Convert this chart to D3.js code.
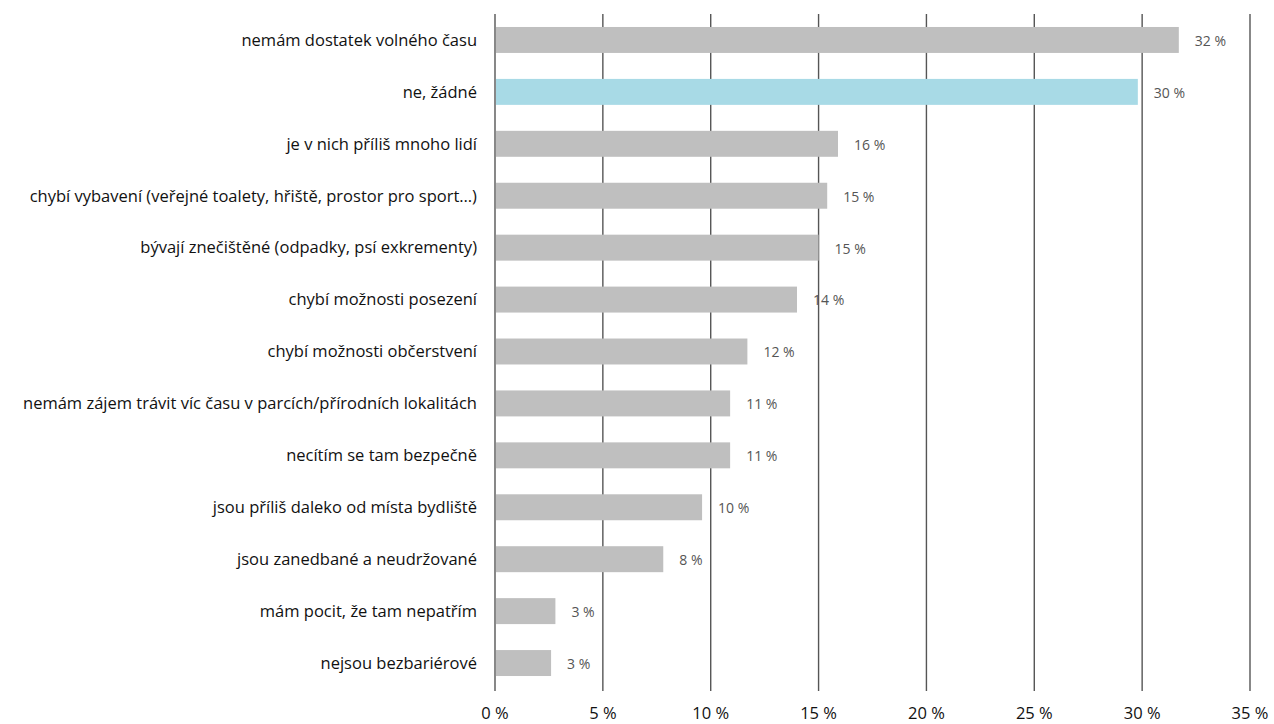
<!DOCTYPE html>
<html><head><meta charset="utf-8">
<script src="https://cdn.jsdelivr.net/npm/d3@7"></script>
<style>body{margin:0;background:#fff}svg{display:block}</style>
</head><body>
<script>
const categories = [
  "nemám dostatek volného času",
  "ne, žádné",
  "je v nich příliš mnoho lidí",
  "chybí vybavení (veřejné toalety, hřiště, prostor pro sport…)",
  "bývají znečištěné (odpadky, psí exkrementy)",
  "chybí možnosti posezení",
  "chybí možnosti občerstvení",
  "nemám zájem trávit víc času v parcích/přírodních lokalitách",
  "necítím se tam bezpečně",
  "jsou příliš daleko od místa bydliště",
  "jsou zanedbané a neudržované",
  "mám pocit, že tam nepatřím",
  "nejsou bezbariérové"
];
const values = [31.7, 29.8, 15.9, 15.4, 15.0, 14.0, 11.7, 10.9, 10.9, 9.6, 7.8, 2.8, 2.6];
const valueLabels = ["32 %","30 %","16 %","15 %","15 %","14 %","12 %","11 %","11 %","10 %","8 %","3 %","3 %"];
const highlight = ["ne, žádné"];
const ticks = [0,5,10,15,20,25,30,35];
const tickLabels = ["0 %","5 %","10 %","15 %","20 %","25 %","30 %","35 %"];

const W = 1274, H = 724;
const svg = d3.select("body").append("svg").attr("width", W).attr("height", H);
const font = "'Open Sans', sans-serif";

const x = d3.scaleLinear().domain([0,35]).range([495,1250]);
const y = d3.scaleBand().domain(categories).range([14,689]).paddingInner(0.5).paddingOuter(0.25);

// gridlines
svg.append("g").selectAll("line").data(ticks).join("line")
  .attr("x1", d=>x(d)).attr("x2", d=>x(d))
  .attr("y1", 14).attr("y2", 691)
  .attr("stroke", "#555").attr("stroke-width", 1.4);

// bars
svg.append("g").selectAll("rect").data(categories).join("rect")
  .attr("x", x(0)+1).attr("y", d=>y(d))
  .attr("width", (d,i)=>x(values[i])-x(0)-1)
  .attr("height", y.bandwidth())
  .attr("fill", d=>highlight.includes(d) ? "#a8dae6" : "#bfbfbf");

// category labels
svg.append("g").selectAll("text").data(categories).join("text")
  .attr("x", 477).attr("y", d=>y(d)+y.bandwidth()/2)
  .attr("dy", "0.35em").attr("text-anchor","end")
  .attr("font-family", font).attr("font-size", 16.5).attr("fill","#111")
  .text(d=>d);

// value labels
svg.append("g").selectAll("text").data(categories).join("text")
  .attr("x", (d,i)=>x(values[i])+16).attr("y", d=>y(d)+y.bandwidth()/2+1)
  .attr("dy", "0.35em")
  .attr("font-family", font).attr("font-size", 14).attr("fill","#555")
  .text((d,i)=>valueLabels[i]);

// tick labels
svg.append("g").selectAll("text").data(ticks).join("text")
  .attr("x", d=>x(d)).attr("y", 713)
  .attr("dy","0.35em").attr("text-anchor","middle")
  .attr("font-family", font).attr("font-size", 16.5).attr("fill","#111")
  .text((d,i)=>tickLabels[i]);
</script>
</body></html>
